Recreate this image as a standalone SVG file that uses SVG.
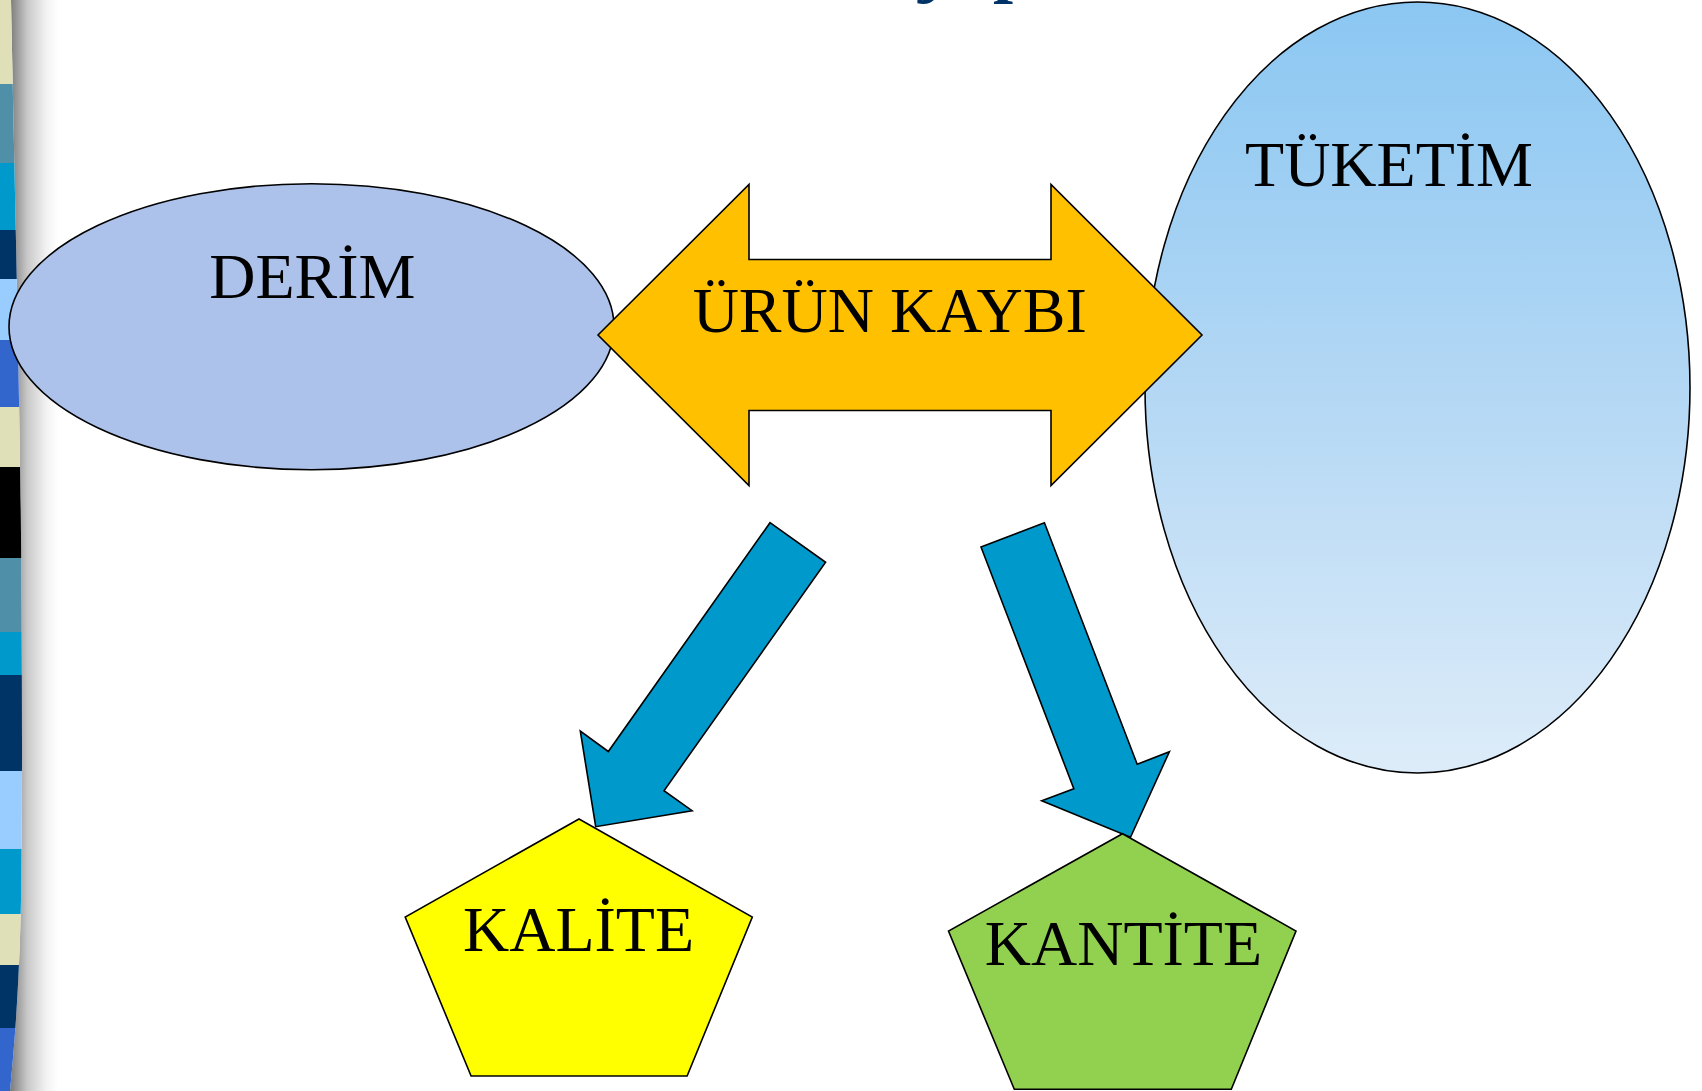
<svg xmlns="http://www.w3.org/2000/svg" width="1702" height="1091" viewBox="0 0 1702 1091">
  <style>
    .lbl { font-family: "Liberation Serif", "Times New Roman", serif; font-size: 64px; fill: #000; text-anchor: middle; }
    .ttl { font-family: "Liberation Serif", "Times New Roman", serif; font-size: 72px; font-weight: bold; fill: #003366; }
    .outline { stroke: #000; stroke-width: 1.6; stroke-linejoin: miter; }
    .blk { fill: #0099CC; stroke: #000; stroke-width: 1.6; stroke-linejoin: miter; }
  </style>
  <defs>
    <clipPath id="stripClip">
      <path d="M0 0 L11 0 C15 200, 21 450, 21.5 600 C22 700, 22.5 800, 21 900 C19.5 980, 15 1040, 10 1091 L0 1091 Z"/>
    </clipPath>
    <linearGradient id="shadowGrad" gradientUnits="userSpaceOnUse" x1="11" y1="0" x2="58" y2="0">
      <stop offset="0" stop-color="#7f7f7f"/>
      <stop offset="0.35" stop-color="#c9c9c9"/>
      <stop offset="0.75" stop-color="#f2f2f2"/>
      <stop offset="1" stop-color="#ffffff"/>
    </linearGradient>
    <linearGradient id="tukGrad" gradientUnits="userSpaceOnUse" x1="0" y1="2" x2="0" y2="773">
      <stop offset="0" stop-color="#8BC7F2"/>
      <stop offset="0.5" stop-color="#B3D7F4"/>
      <stop offset="1" stop-color="#DDECF9"/>
    </linearGradient>
  </defs>

  <rect x="0" y="0" width="1702" height="1091" fill="#ffffff"/>

  <!-- left decorative strip -->
  <g id="side-strip">
    <path d="M11 0 C15 200, 21 450, 21.5 600 C22 700, 22.5 800, 21 900 C19.5 980, 15 1040, 10 1091 L60 1091 L60 0 Z" fill="url(#shadowGrad)"/>
    <g clip-path="url(#stripClip)">
      <rect x="0" y="0" width="30" height="84" fill="#DFDFB8"/>
      <rect x="0" y="84" width="30" height="79" fill="#4F8FA8"/>
      <rect x="0" y="163" width="30" height="67" fill="#0099CC"/>
      <rect x="0" y="230" width="30" height="49" fill="#003366"/>
      <rect x="0" y="279" width="30" height="61" fill="#99CCFF"/>
      <rect x="0" y="340" width="30" height="67" fill="#3366CC"/>
      <rect x="0" y="407" width="30" height="60" fill="#DFDFB8"/>
      <rect x="0" y="467" width="30" height="91" fill="#000000"/>
      <rect x="0" y="558" width="30" height="74" fill="#4F8FA8"/>
      <rect x="0" y="632" width="30" height="43" fill="#0099CC"/>
      <rect x="0" y="675" width="30" height="96" fill="#003366"/>
      <rect x="0" y="771" width="30" height="78" fill="#99CCFF"/>
      <rect x="0" y="849" width="30" height="65" fill="#0099CC"/>
      <rect x="0" y="914" width="30" height="51" fill="#DFDFB8"/>
      <rect x="0" y="965" width="30" height="63" fill="#003366"/>
      <rect x="0" y="1028" width="30" height="63" fill="#3366CC"/>
    </g>
  </g>

  <!-- cut-off title descenders -->
  <g id="title">
    <text class="ttl" x="918" y="-11">j</text>
    <text class="ttl" x="993" y="-11">p</text>
  </g>

  <g id="node-tuketim">
    <ellipse cx="1417.5" cy="387.5" rx="272.5" ry="385.5" fill="url(#tukGrad)" class="outline"/>
    <text class="lbl" x="1389" y="186">TÜKETİM</text>
  </g>

  <g id="node-derim">
    <ellipse cx="311.5" cy="326.7" rx="302.5" ry="143" fill="#ADC2EA" class="outline"/>
    <text class="lbl" x="312.3" y="297.5">DERİM</text>
  </g>

  <g id="node-urun-kaybi">
    <polygon points="598,335 749,184.5 749,259.5 1051,259.5 1051,184.5 1202,335 1051,485.5 1051,410.5 749,410.5 749,485.5" fill="#FFC000" class="outline"/>
    <text class="lbl" x="889.7" y="331.7">ÜRÜN KAYBI</text>
  </g>

  <g id="connectors">
    <polygon class="blk" points="770,522.7 825.6,562.3 664,790.7 692.1,810.7 595.7,826.7 580.3,731 608.3,751.5"/>
    <polygon class="blk" points="981,547 1044.4,522.7 1137.2,764.3 1169.4,751.7 1130.5,837.3 1041.7,800.7 1073.8,788.7"/>
  </g>

  <g id="node-kalite">
    <polygon points="579,819 752.3,917 687.1,1076 471.1,1076 405.2,917" fill="#FFFF00" class="outline"/>
    <text class="lbl" x="578.5" y="950.7">KALİTE</text>
  </g>

  <g id="node-kantite">
    <polygon points="1122.5,833.7 1296,931 1231.3,1089.3 1014.3,1089.3 948.5,931" fill="#92D050" class="outline"/>
    <text class="lbl" x="1123.4" y="965">KANTİTE</text>
  </g>
</svg>
